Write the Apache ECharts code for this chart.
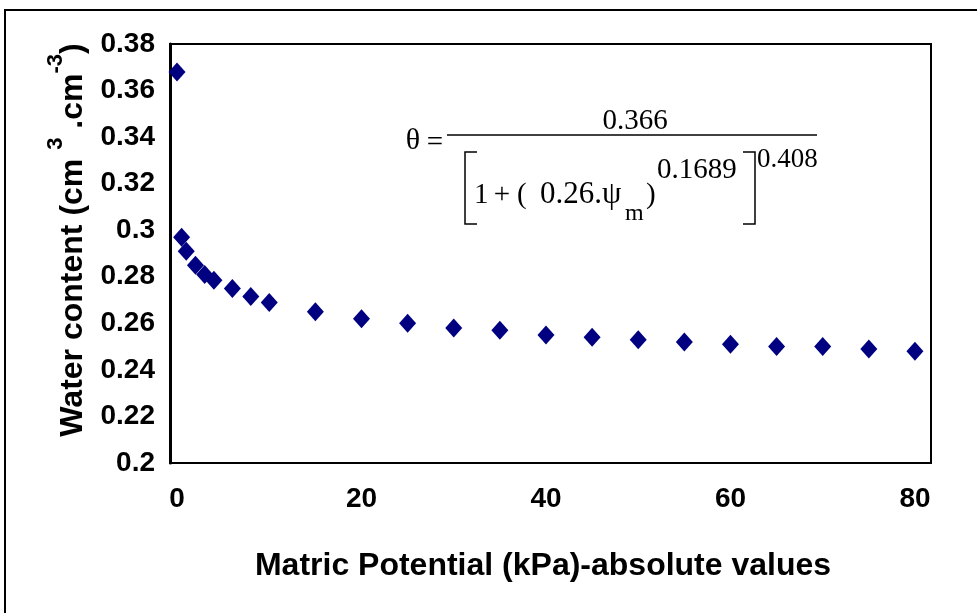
<!DOCTYPE html>
<html>
<head>
<meta charset="utf-8">
<script src="https://cdn.jsdelivr.net/npm/echarts@6/dist/echarts.min.js"></script>
<style>
  html, body { margin: 0; padding: 0; background: #fff; }
  #chart { width: 977px; height: 613px; }
</style>
</head>
<body>
<div id="chart"></div>
<script>
// Matric potential (kPa, absolute values) and measured volumetric water content
const matricPotential = [0, 0.5, 1, 2, 3, 4, 6, 8, 10, 15, 20, 25, 30, 35, 40, 45, 50, 55, 60, 65, 70, 75, 80];
const waterContent = [0.368, 0.297, 0.291, 0.285, 0.281, 0.2785, 0.275, 0.2715, 0.269, 0.265, 0.262, 0.260, 0.258, 0.257, 0.255, 0.254, 0.253, 0.252, 0.251, 0.250, 0.250, 0.249, 0.248];
const xTickValues = [0, 20, 40, 60, 80];

const points = matricPotential.map((x, i) => [x, waterContent[i]]);

const serif = '"Liberation Serif", "Times New Roman", serif';
const sans = '"Liberation Sans", Arial, sans-serif';

function eqText(text, x, y, size, align) {
  return {
    type: 'text', x: x, y: y, silent: true,
    style: {
      text: text, fontFamily: serif, fontSize: size, fill: '#000',
      align: align || 'left', verticalAlign: 'middle'
    }
  };
}

const chart = echarts.init(document.getElementById('chart'), null, { renderer: 'canvas' });

chart.setOption({
  backgroundColor: '#fff',
  animation: false,
  grid: {
    left: 170, right: 46, top: 44, bottom: 150,
    show: true, borderColor: '#000', borderWidth: 2, backgroundColor: '#fff'
  },
  xAxis: {
    type: 'value',
    min: -0.76, max: 81.74,
    axisLine: { show: true, onZero: false, lineStyle: { color: '#000', width: 2 } },
    axisTick: { show: false },
    splitLine: { show: false },
    axisLabel: {
      customValues: xTickValues,
      margin: 22,
      color: '#000', fontFamily: sans, fontWeight: 'bold', fontSize: 28
    }
  },
  yAxis: {
    type: 'value',
    min: 0.2, max: 0.38, interval: 0.02,
    axisLine: { show: true, onZero: false, lineStyle: { color: '#000', width: 3 } },
    axisTick: { show: false },
    splitLine: { show: false },
    axisLabel: {
      margin: 15,
      color: '#000', fontFamily: sans, fontWeight: 'bold', fontSize: 28,
      formatter: v => String(+v.toFixed(2))
    }
  },
  series: [{
    type: 'scatter',
    data: points,
    symbol: 'diamond',
    symbolSize: [17, 19],
    itemStyle: { color: '#000080', opacity: 1 }
  }],
  graphic: [
    // outer chart frame
    {
      type: 'rect', silent: true, z: -10,
      shape: { x: 5, y: 10, width: 1000, height: 700 },
      style: { fill: null, stroke: '#000', lineWidth: 2 }
    },
    // axis titles
    {
      type: 'text', silent: true,
      x: 543, y: 566,
      style: {
        text: 'Matric Potential (kPa)-absolute values',
        fontFamily: sans, fontWeight: 'bold', fontSize: 32, fill: '#000',
        align: 'center', verticalAlign: 'middle'
      }
    },
    {
      type: 'text', silent: true,
      x: 67, y: 240, rotation: Math.PI / 2,
      style: {
        text: '{a|Water content (cm }{s|3}{a| .cm}{s|-3}{a|)}',
        align: 'center', verticalAlign: 'middle',
        rich: {
          a: { fontFamily: sans, fontWeight: 'bold', fontSize: 32, fill: '#000', lineHeight: 44, verticalAlign: 'bottom' },
          s: { fontFamily: sans, fontWeight: 'bold', fontSize: 22, fill: '#000', lineHeight: 44, verticalAlign: 'top' }
        }
      }
    },
    // fitted retention equation
    eqText('\u03b8', 413, 141, 30, 'center'),
    eqText('=', 435, 143, 29, 'center'),
    eqText('0.366', 635, 121, 29, 'center'),
    {
      type: 'line', silent: true,
      shape: { x1: 447, y1: 135, x2: 817, y2: 135 },
      style: { stroke: '#000', lineWidth: 1.5 }
    },
    {
      type: 'polyline', silent: true,
      shape: { points: [[477, 152], [465, 152], [465, 224], [477, 224]] },
      style: { stroke: '#000', lineWidth: 1.5, fill: null }
    },
    {
      type: 'polyline', silent: true,
      shape: { points: [[743, 152], [755, 152], [755, 224], [743, 224]] },
      style: { stroke: '#000', lineWidth: 1.5, fill: null }
    },
    eqText('1', 474, 195, 29),
    eqText('+', 502, 195, 29, 'center'),
    eqText('(', 517, 195, 29),
    eqText('0.26.\u03c8', 540, 195, 31),
    eqText('m', 625, 214, 24),
    eqText(')', 646, 195, 29),
    eqText('0.1689', 657, 170, 29),
    eqText('0.408', 757, 160, 27)
  ]
});
</script>
</body>
</html>
